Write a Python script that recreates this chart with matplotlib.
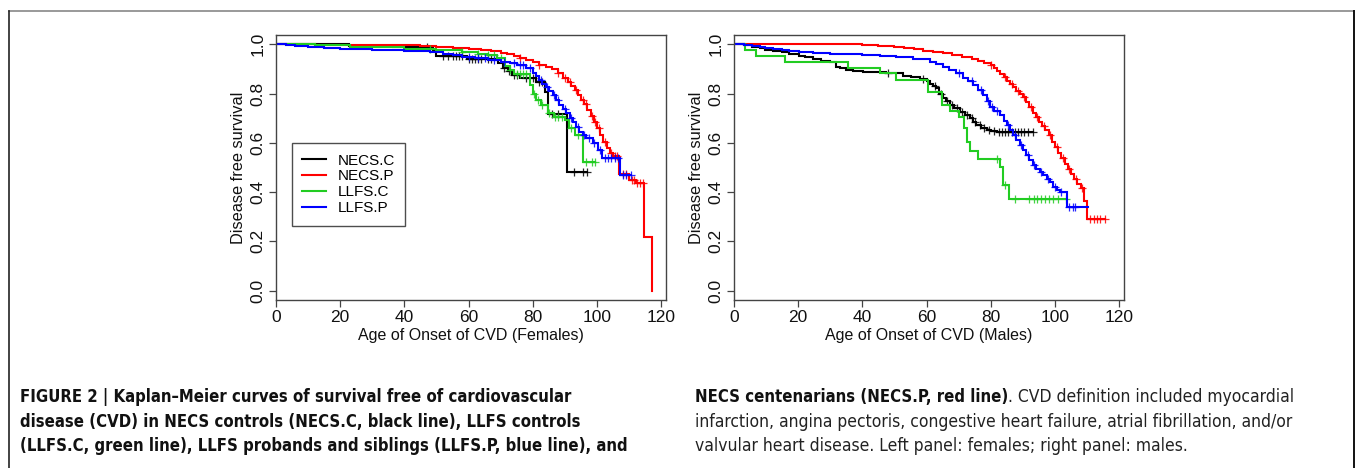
import numpy as np
import matplotlib
matplotlib.use("Agg")
import matplotlib.pyplot as plt
from matplotlib.lines import Line2D

plt.rcParams['font.family'] = ['Liberation Sans', 'DejaVu Sans']

# ---------------- data ----------------
series_names = ["NECS.C", "NECS.P", "LLFS.C", "LLFS.P"]
series_colors = ["#000000", "#ff0000", "#22cc22", "#0000ff"]

# Females
f_necsc_t = [22.6, 36.6, 49.0, 50.0, 59.4, 69.2, 70.8, 72.4, 73.4, 76.0, 81.0, 83.8, 84.8, 90.6]
f_necsc_s = [0.995, 0.99, 0.975, 0.952, 0.940, 0.923, 0.905, 0.89, 0.876, 0.862, 0.848, 0.805, 0.717, 0.48]
f_necsc_end = 96.8
f_necsc_cens = [47, 52, 53.5, 55, 56, 57, 58, 60, 61, 62, 63, 64, 66, 67, 71, 72.5, 74, 75, 78, 80, 82, 83,
                86, 88, 92.8, 95.7, 96.8]

f_necsp_t = [12, 30, 45, 50, 55, 60, 64, 67, 70, 72, 74, 76, 78, 80, 82, 84, 86, 88, 89.5, 91, 92, 93, 94, 95,
             96, 97, 98, 99, 100, 101, 102, 103, 104, 105, 106.8, 110, 112, 114.8, 117]
f_necsp_s = [0.998, 0.996, 0.994, 0.99, 0.987, 0.983, 0.977, 0.972, 0.966, 0.96, 0.952, 0.943, 0.935, 0.927,
             0.918, 0.908, 0.898, 0.885, 0.865, 0.848, 0.83, 0.815, 0.795, 0.775, 0.758, 0.735, 0.71, 0.685,
             0.66, 0.632, 0.605, 0.58, 0.56, 0.545, 0.475, 0.45, 0.436, 0.219, 0.0]
f_necsp_end = 117
f_necsp_cens = [76, 82, 88, 90, 91.5, 93.5, 95.5, 96.5, 98.5, 99.5, 100.5, 102.5, 104.5, 105.5, 106.2, 108,
                109, 110.8, 111.5, 112.5, 113.5, 114.2]

f_llfsc_t = [12, 23, 40, 50, 58, 63, 66, 69, 71.2, 72.8, 74.3, 79.2, 80, 81, 82.6, 84.6, 86.5, 89.9, 91.4, 93, 95.6]
f_llfsc_s = [0.996, 0.988, 0.982, 0.977, 0.97, 0.962, 0.955, 0.943, 0.913, 0.896, 0.878, 0.835, 0.80, 0.774,
             0.754, 0.72, 0.707, 0.693, 0.659, 0.632, 0.521]
f_llfsc_end = 99.5
f_llfsc_cens = [48, 58, 63, 66, 68, 70, 73, 75, 76, 77, 78, 80.5, 81.5, 83, 85, 87, 88, 89, 92, 94, 96.5, 98.5, 99.5]

f_llfsp_t = [3, 6, 10, 15, 20, 30, 40, 48, 52, 55, 58, 62, 66, 70, 72.8, 75, 78, 80, 81, 82, 83, 84, 85, 86.2,
             87.2, 88.3, 89.3, 90.4, 91.5, 92.5, 93.5, 94.5, 95.5, 96.6, 98.7, 100.2, 101.7, 107.2]
f_llfsp_s = [0.997, 0.994, 0.99, 0.985, 0.98, 0.978, 0.975, 0.97, 0.962, 0.955, 0.948, 0.943, 0.938, 0.93,
             0.923, 0.915, 0.903, 0.885, 0.87, 0.855, 0.84, 0.825, 0.81, 0.794, 0.775, 0.754, 0.737, 0.72,
             0.703, 0.686, 0.665, 0.645, 0.63, 0.618, 0.598, 0.571, 0.537, 0.47]
f_llfsp_end = 110.6
f_llfsp_cens = [60, 63, 65, 68, 71, 74, 76, 77, 79, 82.5, 84.5, 86.5, 88, 90, 92, 94, 96, 97.5, 99, 100.8,
                102.5, 103.5, 104.5, 105.5, 106.5, 108, 109, 110.6]

# Males
m_necsc_t = [3, 5.6, 8, 9.7, 12, 14.8, 17, 20.1, 22, 24.6, 27, 29.8, 31.9, 33, 35, 37, 40.2, 47.5, 52.7, 55,
             57.9, 60, 61, 62.1, 63, 64, 65.2, 66, 67.2, 68.5, 70.4, 72, 73.5, 74.5, 75.5, 77, 78.7, 80, 81.8]
m_necsc_s = [0.997, 0.99, 0.985, 0.977, 0.972, 0.967, 0.96, 0.954, 0.947, 0.94, 0.933, 0.927, 0.909, 0.903,
             0.896, 0.89, 0.886, 0.882, 0.872, 0.866, 0.859, 0.85, 0.841, 0.83, 0.821, 0.8, 0.781, 0.768,
             0.754, 0.74, 0.727, 0.713, 0.70, 0.686, 0.672, 0.662, 0.652, 0.648, 0.645]
m_necsc_end = 93.2
m_necsc_cens = [48, 59, 62.5, 64.5, 66.5, 68, 69.5, 71, 72.5, 74, 75, 76.5, 78, 79.5, 81, 82.5, 83.5, 84.5,
                85.5, 86.5, 87.5, 88.5, 89.5, 90.5, 91.5, 93.2]

m_necsp_t = [40, 45, 50, 53, 56, 59, 62, 65, 68, 71, 74, 76, 78, 80, 81, 82, 83, 84, 85, 86, 87, 88, 89, 90,
             91, 92, 93, 94, 95, 96, 97, 98, 99, 100, 101, 102, 103, 104, 105, 106, 107, 108, 109, 110.1]
m_necsp_s = [0.998, 0.995, 0.99, 0.986, 0.98, 0.974, 0.968, 0.963, 0.957, 0.95, 0.94, 0.932, 0.925, 0.915,
             0.905, 0.893, 0.88, 0.868, 0.852, 0.838, 0.825, 0.812, 0.8, 0.785, 0.765, 0.745, 0.72, 0.705,
             0.685, 0.67, 0.652, 0.63, 0.605, 0.585, 0.56, 0.537, 0.515, 0.495, 0.475, 0.455, 0.435, 0.415,
             0.365, 0.29]
m_necsp_end = 115.5
m_necsp_cens = [80, 84.5, 86.5, 88.5, 90.5, 92.5, 94.5, 96.5, 98.5, 100.5, 102.5, 104.5, 106.5, 108.5, 111,
                112, 113, 114, 115.5]

m_llfsc_t = [3.3, 7, 15.8, 35.5, 45.4, 50.6, 60.4, 64.9, 67.3, 70, 71.5, 72.5, 73.5, 76, 82.8, 83.8, 85.6]
m_llfsc_s = [0.977, 0.954, 0.927, 0.903, 0.882, 0.855, 0.805, 0.754, 0.73, 0.706, 0.659, 0.605, 0.565, 0.534,
             0.503, 0.429, 0.372]
m_llfsc_end = 103.5
m_llfsc_cens = [82, 84.5, 87.5, 92, 93.5, 94.5, 95.5, 97, 98, 99.5, 101, 103.5]

m_llfsp_t = [3, 5.6, 8, 9.7, 12, 14.8, 17, 20.1, 24.6, 29.8, 40, 45.4, 50.6, 55.8, 61, 63, 65.2, 67, 69.3,
             71.4, 73, 74.5, 76, 77.6, 78.7, 79.7, 81, 82.8, 84, 84.9, 86, 87, 88, 89, 90, 91.1, 92, 93.2,
             94.2, 95.3, 96.3, 97.4, 98.4, 99.4, 100.5, 101.5, 103.6]
m_llfsp_s = [0.997, 0.993, 0.99, 0.986, 0.982, 0.977, 0.972, 0.967, 0.963, 0.959, 0.957, 0.954, 0.95, 0.94,
             0.93, 0.92, 0.909, 0.896, 0.882, 0.862, 0.85, 0.835, 0.815, 0.794, 0.77, 0.747, 0.73, 0.713,
             0.69, 0.672, 0.652, 0.632, 0.612, 0.591, 0.57, 0.55, 0.53, 0.51, 0.495, 0.483, 0.47, 0.455,
             0.44, 0.422, 0.41, 0.4, 0.34]
m_llfsp_end = 110.3
m_llfsp_cens = [70, 74, 77, 79, 80.5, 82, 85.5, 87.5, 89.5, 91.5, 93.5, 95.7, 97.8, 100, 102, 104.5, 105.5, 106.3]

x_ticks = [0, 20, 40, 60, 80, 100, 120]
y_ticks = [0.0, 0.2, 0.4, 0.6, 0.8, 1.0]
y_tick_labels = ["0.0", "0.2", "0.4", "0.6", "0.8", "1.0"]
x_label_f = "Age of Onset of CVD (Females)"
x_label_m = "Age of Onset of CVD (Males)"
y_label = "Disease free survival"

caption_left = ["FIGURE 2 | Kaplan\u2013Meier curves of survival free of cardiovascular",
                "disease (CVD) in NECS controls (NECS.C, black line), LLFS controls",
                "(LLFS.C, green line), LLFS probands and siblings (LLFS.P, blue line), and"]
caption_right_bold = "NECS centenarians (NECS.P, red line)"
caption_right = [". CVD definition included myocardial",
                 "infarction, angina pectoris, congestive heart failure, atrial fibrillation, and/or",
                 "valvular heart disease. Left panel: females; right panel: males."]

females = [(f_necsc_t, f_necsc_s, f_necsc_end, f_necsc_cens),
           (f_necsp_t, f_necsp_s, f_necsp_end, f_necsp_cens),
           (f_llfsc_t, f_llfsc_s, f_llfsc_end, f_llfsc_cens),
           (f_llfsp_t, f_llfsp_s, f_llfsp_end, f_llfsp_cens)]
males = [(m_necsc_t, m_necsc_s, m_necsc_end, m_necsc_cens),
         (m_necsp_t, m_necsp_s, m_necsp_end, m_necsp_cens),
         (m_llfsc_t, m_llfsc_s, m_llfsc_end, m_llfsc_cens),
         (m_llfsp_t, m_llfsp_s, m_llfsp_end, m_llfsp_cens)]

# ---------------- figure ----------------
W, H = 1357, 468
fig = plt.figure(figsize=(W / 100, H / 100), dpi=100)

def km_draw(ax, t, s, end, cens, color):
    x = np.concatenate([[0.0], np.asarray(t, float), [end]])
    y = np.concatenate([[1.0], np.asarray(s, float), [s[-1]]])
    ax.plot(x, y, drawstyle="steps-post", color=color, lw=1.5, solid_joinstyle="miter")
    c = np.asarray(cens, float)
    idx = np.searchsorted(np.asarray(t, float), c, side="right")
    sv = np.concatenate([[1.0], np.asarray(s, float)])[idx]
    ax.plot(c, sv, ls="none", marker="+", ms=6, mew=0.9, color=color, alpha=0.85)

def setup(ax, xlabel):
    ax.set_xlim(0, 121.5)
    ax.set_ylim(-0.038, 1.038)
    ax.set_xticks(x_ticks)
    ax.set_xticklabels([str(v) for v in x_ticks])
    ax.set_yticks(y_ticks)
    ax.set_yticklabels(y_tick_labels, rotation=90, va="center")
    for sp in ax.spines.values():
        sp.set_color("#444444")
        sp.set_linewidth(1.0)
    ax.tick_params(axis="both", direction="out", length=5, width=0.9, color="#444444",
                   labelsize=12.5, labelcolor="#111111", pad=2.5)
    ax.set_xlabel(xlabel, fontsize=11.5, color="#111111", labelpad=2)
    ax.set_ylabel(y_label, fontsize=11.8, color="#111111", labelpad=3)

axL = fig.add_axes([276 / W, 1 - 300 / H, 390 / W, 265 / H])
axR = fig.add_axes([734 / W, 1 - 300 / H, 390 / W, 265 / H])

for (t, s, e, c), col in zip(females, series_colors):
    km_draw(axL, t, s, e, c, col)
for (t, s, e, c), col in zip(males, series_colors):
    km_draw(axR, t, s, e, c, col)

setup(axL, x_label_f)
setup(axR, x_label_m)

handles = [Line2D([0], [0], color=c, lw=1.5) for c in series_colors]
leg = axL.legend(handles, series_names, loc="upper left", bbox_to_anchor=(0.041, 0.592),
                 fontsize=11, frameon=True, fancybox=False, handlelength=1.55, handletextpad=0.75,
                 labelspacing=0.13, borderpad=0.68, borderaxespad=0)
leg.get_frame().set_edgecolor("#222222")
leg.get_frame().set_linewidth(1.0)

# ---------------- frame lines ----------------
def px_line(x0, y0, x1, y1, color, lw):
    fig.add_artist(Line2D([x0 / W, x1 / W], [1 - y0 / H, 1 - y1 / H], transform=fig.transFigure,
                          color=color, lw=lw))

px_line(9, 11, 1354, 11, "#888888", 1.2)
px_line(9, 11, 9, 468, "#222222", 1.2)
px_line(1354, 11, 1354, 468, "#111111", 1.4)

# ---------------- caption ----------------
cap_font = ["DejaVu Sans"]
line_y = [397, 422, 446]
renderer = fig.canvas.get_renderer()

def width_at(txt, size, weight):
    t = fig.text(0, 0, txt, fontsize=size, fontweight=weight, family=cap_font, fontstretch="condensed")
    w = t.get_window_extent(renderer=renderer).width
    t.remove()
    return w

# choose font sizes so the blocks span the same widths as in the picture
bold_size = 13.0 * 607.0 / max(width_at(s, 13.0, "bold") for s in caption_left)
reg_size = 13.0 * 596.0 / width_at(caption_right[1], 13.0, "normal")

for txt, yy in zip(caption_left, line_y):
    fig.text(20 / W, 1 - yy / H, txt, fontsize=bold_size, fontweight="bold", family=cap_font,
             fontstretch="condensed", color="#111111", va="center", ha="left")

tb = fig.text(695 / W, 1 - line_y[0] / H, caption_right_bold, fontsize=bold_size, fontweight="bold",
              family=cap_font, fontstretch="condensed", color="#111111", va="center", ha="left")
bb = tb.get_window_extent(renderer=renderer)
fig.text(bb.x1 / W, 1 - line_y[0] / H, caption_right[0], fontsize=reg_size, family=cap_font,
         fontstretch="condensed", color="#222222", va="center", ha="left")
for txt, yy in zip(caption_right[1:], line_y[1:]):
    fig.text(695 / W, 1 - yy / H, txt, fontsize=reg_size, family=cap_font, fontstretch="condensed",
             color="#222222", va="center", ha="left")

fig.savefig("out.png", dpi=100)
